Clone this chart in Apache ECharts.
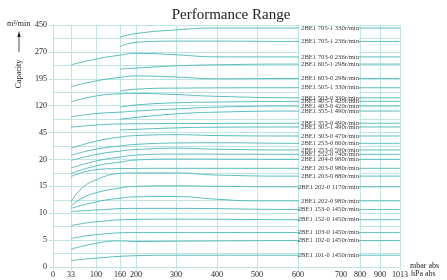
<!DOCTYPE html>
<html>
<head>
<meta charset="utf-8">
<script src="https://cdn.jsdelivr.net/npm/echarts@6/dist/echarts.min.js"></script>
<style>
html,body{margin:0;padding:0;background:#fff;}
#one{width:447px;height:280px;}
</style>
</head>
<body>
<div id="one"></div>
<script>
// 横轴刻度 (mbar abs) 及其在轴上的位置 (非线性刻度)
var xTicks = [0, 33, 100, 160, 200, 300, 400, 500, 600, 700, 800, 900, 1013];
var xSpots = [0, 18, 43, 67, 83, 123, 164, 204, 245, 288, 307, 327, 347];
// 纵轴刻度 (m3/min), 每段等距
var yTicks = [0, 5, 10, 15, 20, 45, 120, 195, 270, 450];

var names = [
    '2BE1 705-1 330r/min', '2BE1 705-1 236r/min', '2BE1 703-0 236r/min', '2BE1 605-1 298r/min',
    '2BE1 603-0 298r/min', '2BE1 505-1 330r/min', '2BE1 503-0 330r/min', '2BE1 405-1 420r/min',
    '2BE1 403-0 420r/min', '2BE1 355-1 490r/min', '2BE1 353-0 490r/min', '2BE1 305-1 490r/min',
    '2BE1 303-0 470r/min', '2BE1 253-0 660r/min', '2BE1 253-0 590r/min', '2BE1 252-0 740r/min',
    '2BE1 204-0 980r/min', '2BE1 203-0 980r/min', '2BE1 203-0 880r/min', '2BE1 202-0 1170r/min',
    '2BE1 202-0 980r/min', '2BE1 153-0 1450r/min', '2BE1 152-0 1450r/min', '2BE1 103-0 1450r/min',
    '2BE1 102-0 1450r/min', '2BE1 101-0 1450r/min'
];

// [吸入压力 mbar, 抽气量 m3/min]
var s705_1_330 = [[160,368],[200,393],[300,417],[400,430],[600,430]];
var s705_1_236 = [[160,305],[200,334],[300,342],[400,342],[600,340]];
var s703_0_236 = [[33,234],[100,250],[160,261],[200,266],[300,262],[400,256],[600,256]];
var s605_1_298 = [[160,222],[200,225],[300,231],[400,234],[600,236]];
var s603_0_298 = [[33,173],[100,189],[160,199],[200,203],[300,200],[400,195],[600,196]];
var s505_1_330 = [[160,161],[200,166],[300,169],[600,170]];
var s503_0_330 = [[33,131],[100,147],[160,153],[200,154],[300,151],[400,146],[600,142]];
var s405_1_420 = [[160,116],[200,122],[300,128],[400,130],[600,132]];
var s403_0_420 = [[33,89],[100,98],[160,102],[200,105],[300,111],[400,116],[600,119]];
var s355_1_490 = [[160,82],[200,87],[300,97],[400,102],[600,105]];
var s353_0_490 = [[33,60],[100,66],[160,69],[200,69.5],[300,70],[600,71]];
var s305_1_490 = [[160,52],[200,54],[300,58],[400,60],[600,60.5]];
var s303_0_470 = [[33,30.3],[100,37],[160,40.8],[200,42.2],[300,43],[400,42.2],[600,41.8]];
var s253_0_660 = [[33,24],[100,29.5],[160,32.5],[200,34],[300,35.3],[400,35.5],[600,35]];
var s253_0_590 = [[33,19.8],[100,24.6],[160,27.8],[200,29.2],[300,30.5],[400,29.5],[600,28.8]];
var s252_0_740 = [[33,18.4],[100,19.7],[160,22.2],[200,24],[300,25],[600,24.8]];
var s204_0_980 = [[33,17.4],[100,18.8],[160,19.5],[200,19.9],[300,20.3],[600,20.1]];
var s203_0_980 = [[33,16.8],[100,18.1],[160,18.3],[300,18.35],[600,18.35]];
var s203_0_880 = [[33,12.1],[60,14.5],[100,16.2],[160,17.4],[200,17.5],[300,17.5],[400,17.1],[600,16.9]];
var s202_0_1170 = [[33,11.3],[60,12.7],[100,13.8],[160,14.7],[200,15],[300,15.1],[400,15],[600,14.9]];
var s202_0_980 = [[33,10.9],[100,12.1],[160,12.8],[200,13.05],[300,13.1],[400,12.6],[500,12.3],[600,12.3]];
var s153_0_1450 = [[33,10.3],[100,10.6],[200,10.9],[300,10.9],[600,10.7]];
var s152_0_1450 = [[33,7.7],[100,8.4],[200,8.85],[300,8.9],[600,8.8]];
var s103_0_1450 = [[33,5.3],[100,6.0],[200,6.4],[300,6.4],[600,6.4]];
var s102_0_1450 = [[33,3.3],[100,4.4],[160,4.85],[200,4.75],[300,4.8],[600,4.9]];
var s101_0_1450 = [[33,1.2],[100,1.65],[200,2.1],[300,2.2],[600,2.2]];

var curves = [s705_1_330, s705_1_236, s703_0_236, s605_1_298, s603_0_298, s505_1_330, s503_0_330,
    s405_1_420, s403_0_420, s355_1_490, s353_0_490, s305_1_490, s303_0_470, s253_0_660, s253_0_590,
    s252_0_740, s204_0_980, s203_0_980, s203_0_880, s202_0_1170, s202_0_980, s153_0_1450,
    s152_0_1450, s103_0_1450, s102_0_1450, s101_0_1450];

var serif = "'Liberation Serif','DejaVu Serif',serif";
var lineColor = '#5bbcbc';
var gridColor = '#bfe4e4';

// 分段线性映射
function piece(v, from, to) {
    for (var i = 1; i < from.length; i++) {
        if (v <= from[i]) {
            return to[i - 1] + (v - from[i - 1]) / (from[i] - from[i - 1]) * (to[i] - to[i - 1]);
        }
    }
    return to[to.length - 1];
}
var yIdx = yTicks.map(function (t, i) { return i; });
function xp(v) { return piece(v, xTicks, xSpots); }
function yp(v) { return piece(v, yTicks, yIdx); }

var mainContainer = document.getElementById('one');
var chart = echarts.init(mainContainer);

var series = [];
curves.forEach(function (c, k) {
    var d = c.map(function (p) { return [xp(p[0]), yp(p[1])]; });
    d.push([xp(700), yp(c[c.length - 1][1])]);
    d.push([xp(1013), yp(c[c.length - 1][1])]);
    series.push({
        name: names[k],
        type: 'line',
        z: 2,
        data: d,
        smooth: 0.5,
        showSymbol: false,
        silent: true,
        lineStyle: { color: lineColor, width: 1 }
    });
});
// 标签 + 600-800 区域留白
series.push({
    type: 'scatter',
    z: 5,
    symbolSize: 0,
    silent: true,
    data: curves.map(function (c, k) {
        return { value: [xp(800), yp(c[c.length - 1][1])], name: names[k] };
    }),
    label: {
        show: true,
        position: 'left',
        distance: 1,
        formatter: '{b}',
        fontFamily: serif,
        fontSize: 6.6,
        color: '#000'
    },
    markArea: {
        z: 4,
        silent: true,
        itemStyle: { color: '#fff' },
        data: [[{ xAxis: xp(600) + 1, yAxis: 0.02 }, { xAxis: xp(800) - 1, yAxis: 8.98 }]]
    }
});

var option = {
    animation: false,
    title: {
        text: 'Performance Range',
        left: 226,
        top: 3,
        textAlign: 'center',
        textStyle: { fontFamily: serif, fontSize: 15, fontWeight: 'normal', color: '#222' }
    },
    grid: { left: 53, right: 47, top: 25, bottom: 13 },
    xAxis: {
        type: 'value',
        min: 0,
        max: 347,
        axisLine: { show: true, lineStyle: { color: gridColor } },
        axisTick: { show: true, length: 3, lineStyle: { color: gridColor },
            customValues: xSpots.filter(function (v, i) { return xTicks[i] !== 700; }) },
        axisLabel: {
            customValues: xSpots,
            margin: 4,
            fontFamily: serif,
            fontSize: 8,
            color: '#222',
            formatter: function (v) {
                var i = xSpots.indexOf(v);
                return i >= 0 ? String(xTicks[i]) : '';
            }
        },
        splitLine: { show: true, lineStyle: { color: gridColor } }
    },
    yAxis: {
        type: 'value',
        min: 0,
        max: 9,
        interval: 1,
        axisLine: { show: true, lineStyle: { color: gridColor } },
        axisTick: { show: true, length: 4, lineStyle: { color: gridColor } },
        minorTick: { show: false, splitNumber: 2 },
        minorSplitLine: { show: true, lineStyle: { color: gridColor } },
        axisLabel: {
            margin: 6,
            fontFamily: serif,
            fontSize: 8,
            color: '#222',
            formatter: function (v) { return String(yTicks[Math.round(v)]); }
        },
        splitLine: { show: true, lineStyle: { color: gridColor } }
    },
    graphic: [
        { type: 'text', left: 7, top: 20, style: { text: 'm³/min', font: '8px ' + serif, fill: '#222' } },
        { type: 'line', shape: { x1: 19, y1: 36, x2: 19, y2: 52 }, style: { stroke: '#222', lineWidth: 0.8 } },
        { type: 'polygon', shape: { points: [[19, 31], [17.3, 37], [20.7, 37]] }, style: { fill: '#222' } },
        { type: 'text', x: 19, y: 74, rotation: Math.PI / 2,
          style: { text: 'Capacity', font: '8px ' + serif, fill: '#222', textAlign: 'center', textVerticalAlign: 'middle' } },
        { type: 'text', left: 410, top: 262, style: { text: 'mbar abs', font: '8px ' + serif, fill: '#222' } },
        { type: 'text', left: 411, top: 270, style: { text: 'hPa abs', font: '8px ' + serif, fill: '#222' } }
    ],
    series: series
};
chart.setOption(option);
</script>
</body>
</html>
